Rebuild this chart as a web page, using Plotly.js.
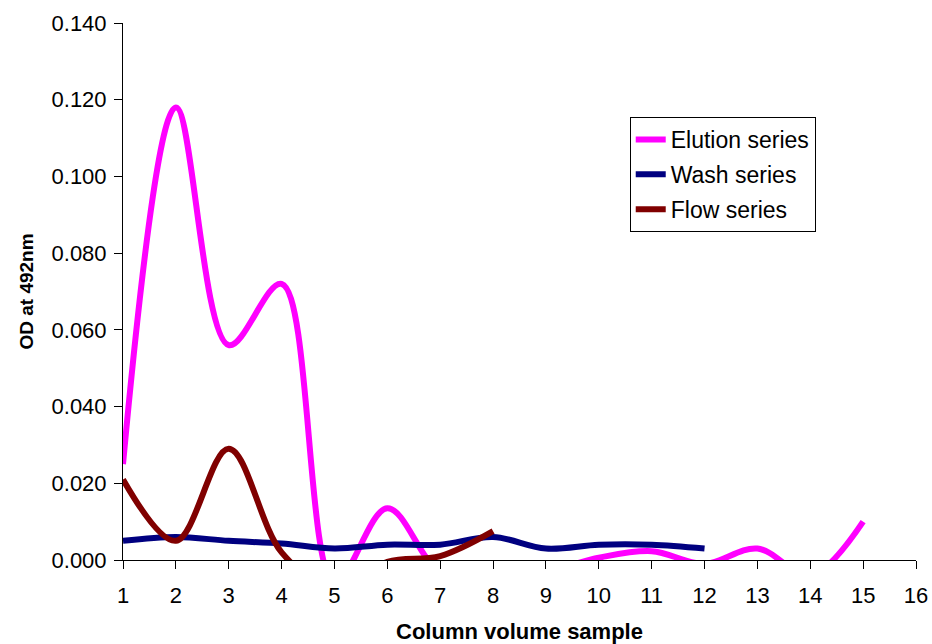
<!DOCTYPE html>
<html>
<head>
<meta charset="utf-8">
<script src="https://cdn.plot.ly/plotly-3.0.1.min.js"></script>
<style>html,body{margin:0;padding:0;background:#fff;}#chart{width:932px;height:644px;}</style>
</head>
<body>
<div id="chart"></div>
<script>
const samples = [1,2,3,4,5,6,7,8,9,10,11,12,13,14,15];
const elution = [0.025,0.118,0.056,0.072,-0.006,0.0135,-0.003,-0.004,-0.003,0.0006,0.0023,-0.001,0.003,-0.004,0.010];
const wash = [0.005,0.006,0.005,0.0043,0.003,0.004,0.004,0.006,0.003,0.004,0.004,0.003];
const flow = [0.021,0.005,0.029,0.002,-0.008,-0.0005,0.001,0.0075];
const seriesNames = ["Elution series","Wash series","Flow series"];
const seriesColors = ["#FF00FF","#000080","#800000"];

const traces = [elution, wash, flow].map((vals, i) => ({
  x: samples.slice(0, vals.length),
  y: vals,
  name: seriesNames[i],
  legendgroup: 'g' + i,
  type: 'scatter',
  mode: 'lines',
  line: {color: seriesColors[i], width: 6, shape: 'spline', smoothing: 1},
  cliponaxis: true
}));

const layout = {
  width: 932, height: 644,
  margin: {l: 123, r: 16, t: 23, b: 84},
  paper_bgcolor: '#fff', plot_bgcolor: '#fff',
  font: {family: 'Arial, "Liberation Sans", sans-serif', size: 22, color: '#000'},
  showlegend: true,
  legend: {
    x: 0.639, y: 0.825, xanchor: 'left', yanchor: 'top',
    bordercolor: '#000', borderwidth: 1, bgcolor: '#fff',
    font: {size: 23, color: '#000'}, tracegroupgap: 2
  },
  xaxis: {
    range: [1, 16], dtick: 1, tick0: 1, showgrid: false, zeroline: false,
    showline: true, linecolor: '#000', linewidth: 1,
    ticks: 'outside', ticklen: 8, tickcolor: '#000',
    tickfont: {size: 22}, ticklabelstandoff: 8,
    title: {text: '<b>Column volume sample</b>', font: {size: 22}, standoff: 32},
    automargin: false
  },
  yaxis: {
    range: [0, 0.14], dtick: 0.02, tickformat: '.3f', showgrid: false, zeroline: false,
    showline: true, linecolor: '#000', linewidth: 1,
    ticks: 'outside', ticklen: 8, tickcolor: '#000',
    tickfont: {size: 22}, ticklabelstandoff: 3,
    title: {text: '<b>OD at 492nm</b>', font: {size: 19}, standoff: 12},
    automargin: false
  }
};

Plotly.newPlot('chart', traces, layout, {displayModeBar: false, staticPlot: true});
</script>
</body>
</html>
